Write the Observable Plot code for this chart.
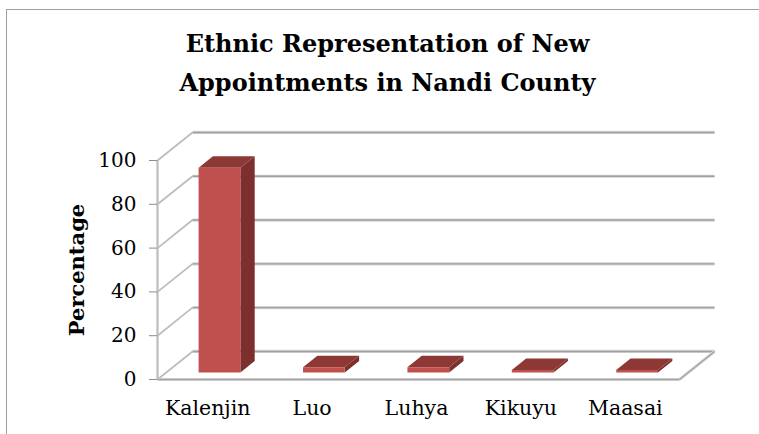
<!DOCTYPE html>
<html><head><meta charset="utf-8">
<script src="https://cdn.jsdelivr.net/npm/d3@7"></script>
<script src="https://cdn.jsdelivr.net/npm/@observablehq/plot@0.6"></script>
<style>
html,body{margin:0;padding:0;background:#fff}
#wrap{position:relative;width:759px;height:434px;overflow:hidden}
#border{position:absolute;left:6px;top:9px;width:770px;height:450px;border:1px solid #a0a0a0;box-sizing:border-box}
h2{position:absolute;left:0;top:24px;width:775px;margin:0;text-align:center;font:bold 24px/39px "DejaVu Serif",serif;color:#000}
svg{position:absolute;left:0;top:0;background:transparent!important}
</style></head><body>
<div id="wrap"><div id="border"></div><h2>Ethnic Representation of New<br>Appointments in Nandi County</h2></div>
<script>
const categories = ["Kalenjin","Luo","Luhya","Kikuyu","Maasai"];
const percentages = [93.5,2.4,2.4,1.1,1.1];
const yTicks = [0,20,40,60,80,100];

// oblique projection: depth 0 = front of the floor, depth 1 = back wall
const depthX = 0.335, depthY = 12.8;
const P = (x,v,d=0)=>({x:x+d*depthX,y:v+d*depthY});
const barW = 0.4, d0 = 0.25, d1 = 0.66, off = 0.01;
const n = categories.length;

const faces=[];
percentages.forEach((v,i)=>{
  const xl=i+0.5+off-barW/2, xr=xl+barW;
  faces.push({k:i+"s",c:"#7c2f2d",pts:[P(xr,0,d0),P(xr,v,d0),P(xr,v,d1),P(xr,0,d1)]});
  faces.push({k:i+"t",c:"#8e3836",pts:[P(xl,v,d0),P(xr,v,d0),P(xr,v,d1),P(xl,v,d1)]});
  faces.push({k:i+"f",c:"#c0504d",pts:[P(xl,0,d0),P(xr,0,d0),P(xr,v,d0),P(xl,v,d0)]});
});
const facePts=faces.flatMap(f=>[...f.pts,f.pts[0]].map(p=>({...p,k:f.k,c:f.c})));

const backLines=yTicks.map(t=>({a:P(0,t,1),b:P(n,t,1)}));
const sideLines=yTicks.map(t=>({a:P(0,t,0),b:P(0,t,1)}));
const floorEdges=[{a:P(0,0,0),b:P(n,0,0)},{a:P(n,0,0),b:P(n,0,1)}];
const link=(data,o)=>Plot.link(data,{x1:d=>d.a.x,y1:d=>d.a.y,x2:d=>d.b.x,y2:d=>d.b.y,markerEnd:"none",...o});

const chart=Plot.plot({
  width:759,height:434,
  marginLeft:157,marginRight:80,marginTop:160,marginBottom:55,
  x:{domain:[0,n]},
  y:{domain:[0,100]},
  style:{fontFamily:"'DejaVu Serif',serif",color:"#000",background:"transparent"},
  marks:[
    link(backLines,{stroke:"#d4d4d4",strokeWidth:3.2}),
    link(backLines,{stroke:"#a0a0a0",strokeWidth:1.4}),
    link(sideLines,{stroke:"#bdbdbd",strokeWidth:1.8}),
    link(floorEdges,{stroke:"#d9d9d9",strokeWidth:3}),
    link(floorEdges,{stroke:"#a3a3a3",strokeWidth:1.4}),
    Plot.ruleX([0],{y1:0,y2:100,stroke:"#bdbdbd",strokeWidth:2.2}),
    Plot.line(facePts,{x:"x",y:"y",z:"k",fill:"c",stroke:"none"}),
    Plot.axisY({ticks:yTicks,tickSize:8,tickPadding:13,fontSize:20,label:null,stroke:"#8c8c8c",fontWeight:300}),
    Plot.axisX({ticks:categories.map((_,i)=>i+0.5),tickFormat:d=>categories[d-0.5],tickSize:0,tickPadding:21,fontSize:20.5,label:null,dx:-2}),
    Plot.text(["Percentage"],{frameAnchor:"left",y:()=>50,dx:-80,rotate:-90,fontSize:21,fontWeight:"bold",textAnchor:"middle"})
  ]
});
document.getElementById("wrap").appendChild(chart);
</script></body></html>
